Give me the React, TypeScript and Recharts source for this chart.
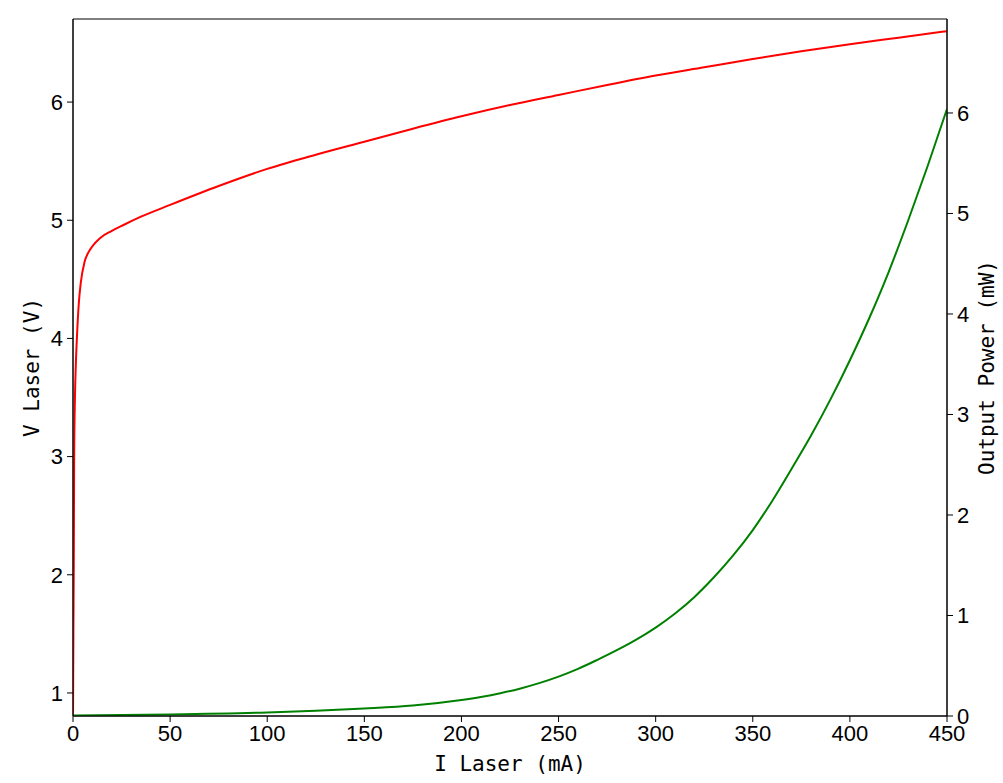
import React from "react";
import { LineChart, Line, XAxis, YAxis, ReferenceArea } from "recharts";

// I-V curve (current mA -> voltage V)
const ivCurrent = [
	0, 0.2, 0.4, 0.6, 1, 1.5, 2, 3, 4, 6, 8, 10, 14, 20, 26, 35, 50, 75, 100,
	125, 150, 175, 200, 225, 250, 275, 300, 325, 350, 375, 400, 425, 450,
];
const ivVoltage = [
	0.8, 1.5, 2.1, 3.0, 3.5, 3.8, 4.0, 4.3, 4.47, 4.65, 4.73, 4.78, 4.85, 4.91,
	4.96, 5.03, 5.13, 5.29, 5.435, 5.555, 5.665, 5.775, 5.88, 5.975, 6.06, 6.145,
	6.225, 6.295, 6.365, 6.43, 6.49, 6.545, 6.6,
];

// L-I curve (current mA -> output power mW)
const liCurrent = [
	0, 50, 100, 125, 150, 175, 200, 210, 220, 230, 240, 250, 260, 270, 280, 290,
	300, 310, 320, 330, 340, 350, 360, 370, 380, 390, 400, 410, 420, 430, 440,
	450,
];
const liPower = [
	0.005, 0.015, 0.035, 0.052, 0.075, 0.105, 0.16, 0.19, 0.227, 0.272, 0.327,
	0.392, 0.469, 0.559, 0.655, 0.76, 0.88, 1.02, 1.185, 1.38, 1.6, 1.85, 2.14,
	2.46, 2.79, 3.15, 3.54, 3.96, 4.42, 4.93, 5.47, 6.04,
];

const xTicks = [0, 50, 100, 150, 200, 250, 300, 350, 400, 450];
const vTicks = [1, 2, 3, 4, 5, 6];
const pTicks = [0, 1, 2, 3, 4, 5, 6];

const ivData = ivCurrent.map((i, k) => ({ i, v: ivVoltage[k] }));
const liData = liCurrent.map((i, k) => ({ i, p: liPower[k] }));

const tickFont = {
	fill: "#000",
	fontSize: 22,
	fontFamily: "'Liberation Sans', Arial, sans-serif",
};
const titleFont = "'DejaVu Sans Mono', monospace";

function AxisTitle(props: any) {
	const { viewBox, text, side } = props;
	const vb = viewBox || { x: 0, y: 0, width: 0, height: 0 };
	if (side === "bottom") {
		return (
			<text
				x={vb.x + vb.width / 2}
				y={vb.y + 55}
				textAnchor="middle"
				fontSize={21}
				fontFamily={titleFont}
				fill="#000"
			>
				{text}
			</text>
		);
	}
	const cx = side === "left" ? vb.x + 32 : vb.x + 40;
	const cy = vb.y + vb.height / 2;
	return (
		<text
			x={cx}
			y={cy}
			transform={`rotate(-90, ${cx}, ${cy})`}
			textAnchor="middle"
			dominantBaseline="central"
			fontSize={21}
			fontFamily={titleFont}
			fill="#000"
		>
			{text}
		</text>
	);
}

export default function App() {
	return (
		<div style={{ position: "absolute", left: 0, top: 0, background: "#fff" }}>
			<LineChart
				width={1003}
				height={783}
				margin={{ top: 19, right: 0, left: 0, bottom: 0 }}
			>
				<XAxis
					dataKey="i"
					type="number"
					domain={[0, 450]}
					ticks={xTicks}
					allowDataOverflow
					height={67}
					stroke="#000"
					tickSize={6}
					tickMargin={3}
					tick={tickFont}
					interval={0}
					label={<AxisTitle side="bottom" text="I Laser (mA)" />}
				/>
				<YAxis
					yAxisId="left"
					type="number"
					domain={[0.805, 6.703]}
					ticks={vTicks}
					allowDataOverflow
					width={73}
					stroke="#000"
					tickSize={6}
					tickMargin={4}
					tick={tickFont}
					interval={0}
					label={<AxisTitle side="left" text="V Laser (V)" />}
				/>
				<YAxis
					yAxisId="right"
					orientation="right"
					type="number"
					domain={[0, 6.935]}
					ticks={pTicks}
					allowDataOverflow
					width={56}
					stroke="#000"
					tickSize={6}
					tickMargin={4}
					tick={tickFont}
					interval={0}
					label={<AxisTitle side="right" text="Output Power (mW)" />}
				/>
				<ReferenceArea
					yAxisId="left"
					x1={0}
					x2={450}
					y1={0.805}
					y2={6.703}
					fill="none"
					fillOpacity={0}
					stroke="#000"
					strokeWidth={1}
					ifOverflow="visible"
				/>
				<Line
					data={ivData}
					dataKey="v"
					yAxisId="left"
					type="monotone"
					stroke="#ff0000"
					strokeWidth={2}
					dot={false}
					isAnimationActive={false}
				/>
				<Line
					data={liData}
					dataKey="p"
					yAxisId="right"
					type="monotone"
					stroke="#008000"
					strokeWidth={2}
					dot={false}
					isAnimationActive={false}
				/>
			</LineChart>
		</div>
	);
}
